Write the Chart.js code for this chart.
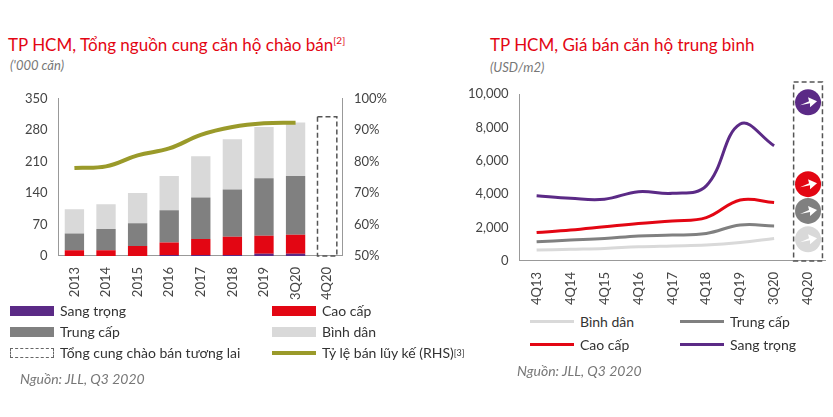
<!DOCTYPE html>
<html><head><meta charset="utf-8">
<script src="https://cdn.jsdelivr.net/npm/chart.js@4/dist/chart.umd.min.js"></script>
<style>
body{margin:0;width:833px;height:417px;background:#fff;font-family:Lato,"Open Sans",sans-serif;position:relative;overflow:hidden}
.t{position:absolute;color:#e30613;font-size:17px}
.t sup{font-size:10px}
.s{position:absolute;color:#777;font-style:italic;font-size:13px}
.c{position:absolute}
.lg{position:absolute;font-size:14px;color:#333;display:flex;align-items:center}
.sw{display:inline-block;width:44px;height:10px;margin-right:6px}
.ln{display:inline-block;width:44px;height:3px;margin-right:6px}
</style></head><body>
<div class="t" style="left:8px;top:34px">TP HCM, Tổng nguồn cung căn hộ chào bán<sup>[2]</sup></div>
<div class="s" style="left:10px;top:57px">('000 căn)</div>
<div class="t" style="left:490px;top:34px">TP HCM, Giá bán căn hộ trung bình</div>
<div class="s" style="left:490px;top:59px">(USD/m2)</div>
<div class="c" style="left:0;top:88px;width:390px;height:215px"><canvas id="c1"></canvas></div>
<div class="c" style="left:465px;top:80px;width:368px;height:228px"><canvas id="c2"></canvas></div>

<div class="lg" style="left:10px;top:302px"><span class="sw" style="background:#5b2a86"></span>Sang trọng</div>
<div class="lg" style="left:272px;top:302px"><span class="sw" style="background:#e30613"></span>Cao cấp</div>
<div class="lg" style="left:10px;top:323px"><span class="sw" style="background:#808080"></span>Trung cấp</div>
<div class="lg" style="left:272px;top:323px"><span class="sw" style="background:#d9d9d9"></span>Bình dân</div>
<div class="lg" style="left:10px;top:344px"><span class="sw" style="border:1.5px dashed #666;box-sizing:border-box"></span>Tổng cung chào bán tương lai</div>
<div class="lg" style="left:272px;top:344px"><span class="ln" style="background:#9a9a2a;height:4px"></span>Tỷ lệ bán lũy kế (RHS)<sup style="font-size:9px">[3]</sup></div>
<div class="s" style="left:20px;top:370px;font-size:14px">Nguồn: JLL, Q3 2020</div>

<div class="lg" style="left:530px;top:313px"><span class="ln" style="background:#d9d9d9"></span>Bình dân</div>
<div class="lg" style="left:680px;top:313px"><span class="ln" style="background:#808080"></span>Trung cấp</div>
<div class="lg" style="left:530px;top:336px"><span class="ln" style="background:#e30613"></span>Cao cấp</div>
<div class="lg" style="left:680px;top:336px"><span class="ln" style="background:#5b2a86"></span>Sang trọng</div>
<div class="s" style="left:517px;top:362px;font-size:14px">Nguồn: JLL, Q3 2020</div>

<script>
const years = ['2013','2014','2015','2016','2017','2018','2019','3Q20','4Q20'];
const sangTrong = [0, 0, 0, 2, 2, 2, 5, 5, null];
const caoCap = [13, 13, 22, 28, 36, 41, 40, 42, null];
const trungCap = [37, 47, 51, 72, 92, 105, 128, 131, null];
const binhDan = [54, 55, 67, 76, 92, 112, 114, 119, null];
const tuongLai = [null, null, null, null, null, null, null, null, 310];
const tyLe = [78, 78.5, 82, 84.2, 88.5, 91, 92.2, 92.4, null];

const quarters = ['4Q13','4Q14','4Q15','4Q16','4Q17','4Q18','4Q19','3Q20','4Q20'];
const binhDanPrice = [650, 700, 750, 850, 900, 950, 1100, 1350, null];
const trungCapPrice = [1150, 1250, 1350, 1500, 1550, 1650, 2150, 2100, null];
const caoCapPrice = [1700, 1850, 2050, 2250, 2400, 2600, 3650, 3500, null];
const sangTrongPrice = [3900, 3750, 3700, 4150, 4050, 4500, 8200, 6900, null];
const iconLevels = [9500, 4600, 3000, 1300];
const iconColors = ['#5b2a86', '#e30613', '#808080', '#d9d9d9'];

const tickFont = {family: 'Lato', size: 13};
const axisCol = '#999';

const dashBox = {
  id: 'dashBox',
  afterDatasetsDraw(chart) {
    const meta = chart.getDatasetMeta(4);
    const ctx = chart.ctx;
    meta.data.forEach((el, i) => {
      if (tuongLai[i] == null) return;
      const p = el.getProps(['x', 'y', 'base', 'width'], true);
      ctx.save();
      ctx.setLineDash([5, 3]);
      ctx.strokeStyle = '#555';
      ctx.lineWidth = 1.5;
      ctx.strokeRect(p.x - p.width / 2, p.y, p.width, p.base - p.y);
      ctx.restore();
    });
  }
};

new Chart(document.getElementById('c1'), {
  type: 'bar',
  data: {
    labels: years,
    datasets: [
      {type: 'line', label: 'Tỷ lệ', data: tyLe, yAxisID: 'y2', borderColor: '#9a9a2a', borderWidth: 4, pointRadius: 0, tension: 0.4, order: 0},
      {label: 'Sang trọng', data: sangTrong, backgroundColor: '#5b2a86', stack: 's', order: 1},
      {label: 'Cao cấp', data: caoCap, backgroundColor: '#e30613', stack: 's', order: 1},
      {label: 'Trung cấp', data: trungCap, backgroundColor: '#808080', stack: 's', order: 1},
      {label: 'Tương lai', data: tuongLai, backgroundColor: 'rgba(0,0,0,0)', stack: 's', order: 1},
      {label: 'Bình dân', data: binhDan, backgroundColor: '#d9d9d9', stack: 's', order: 1}
    ]
  },
  options: {
    responsive: true, maintainAspectRatio: false, animation: false,
    layout: {padding: {left: 22, right: 0, top: 6}},
    plugins: {legend: {display: false}, tooltip: {enabled: false}},
    datasets: {bar: {categoryPercentage: 0.9, barPercentage: 0.68}},
    scales: {
      x: {stacked: true, grid: {display: false}, border: {color: axisCol},
          ticks: {font: tickFont, color: '#444', maxRotation: 90, minRotation: 90}},
      y: {stacked: true, min: 0, max: 350, grid: {display: false}, border: {color: axisCol},
          ticks: {stepSize: 70, font: tickFont, color: '#444'}},
      y2: {position: 'right', min: 50, max: 100, grid: {display: false}, border: {color: axisCol},
           ticks: {stepSize: 10, font: tickFont, color: '#444', callback: v => v + '%'}}
    }
  },
  plugins: [dashBox]
});

const iconBox = {
  id: 'iconBox',
  afterDatasetsDraw(chart) {
    const {ctx, scales: {x, y}, chartArea} = chart;
    const cx = x.getPixelForValue(8);
    const w = x.width / quarters.length * 0.85;
    ctx.save();
    ctx.setLineDash([5, 3]);
    ctx.strokeStyle = '#555';
    ctx.lineWidth = 1.5;
    ctx.strokeRect(cx - w / 2, chartArea.top - 12, w, chartArea.bottom - chartArea.top + 12);
    ctx.setLineDash([]);
    iconLevels.forEach((lv, i) => {
      const cy = y.getPixelForValue(lv);
      ctx.fillStyle = iconColors[i];
      ctx.beginPath(); ctx.arc(cx, cy, 13, 0, Math.PI * 2); ctx.fill();
      ctx.fillStyle = '#fff';
      ctx.beginPath();
      ctx.moveTo(cx - 8, cy + 3); ctx.lineTo(cx + 1, cy - 1); ctx.lineTo(cx, cy - 5);
      ctx.lineTo(cx + 9, cy - 1); ctx.lineTo(cx + 2, cy + 5); ctx.lineTo(cx + 2, cy + 1);
      ctx.closePath(); ctx.fill();
    });
    ctx.restore();
  }
};

const lineDs = (label, data, color) => ({label, data, borderColor: color, borderWidth: 3, pointRadius: 0, tension: 0.4});
new Chart(document.getElementById('c2'), {
  type: 'line',
  data: {
    labels: quarters,
    datasets: [
      lineDs('Bình dân', binhDanPrice, '#d9d9d9'),
      lineDs('Trung cấp', trungCapPrice, '#808080'),
      lineDs('Cao cấp', caoCapPrice, '#e30613'),
      lineDs('Sang trọng', sangTrongPrice, '#5b2a86')
    ]
  },
  options: {
    responsive: true, maintainAspectRatio: false, animation: false,
    layout: {padding: {top: 14, right: 8}},
    plugins: {legend: {display: false}, tooltip: {enabled: false}},
    scales: {
      x: {offset: true, grid: {display: false}, border: {color: axisCol},
          ticks: {font: tickFont, color: '#444', maxRotation: 90, minRotation: 90}},
      y: {min: 0, max: 10000, grid: {display: false}, border: {color: axisCol},
          ticks: {stepSize: 2000, font: tickFont, color: '#444', callback: v => v.toLocaleString('en-US')}}
    }
  },
  plugins: [iconBox]
});
</script>
</body></html>
